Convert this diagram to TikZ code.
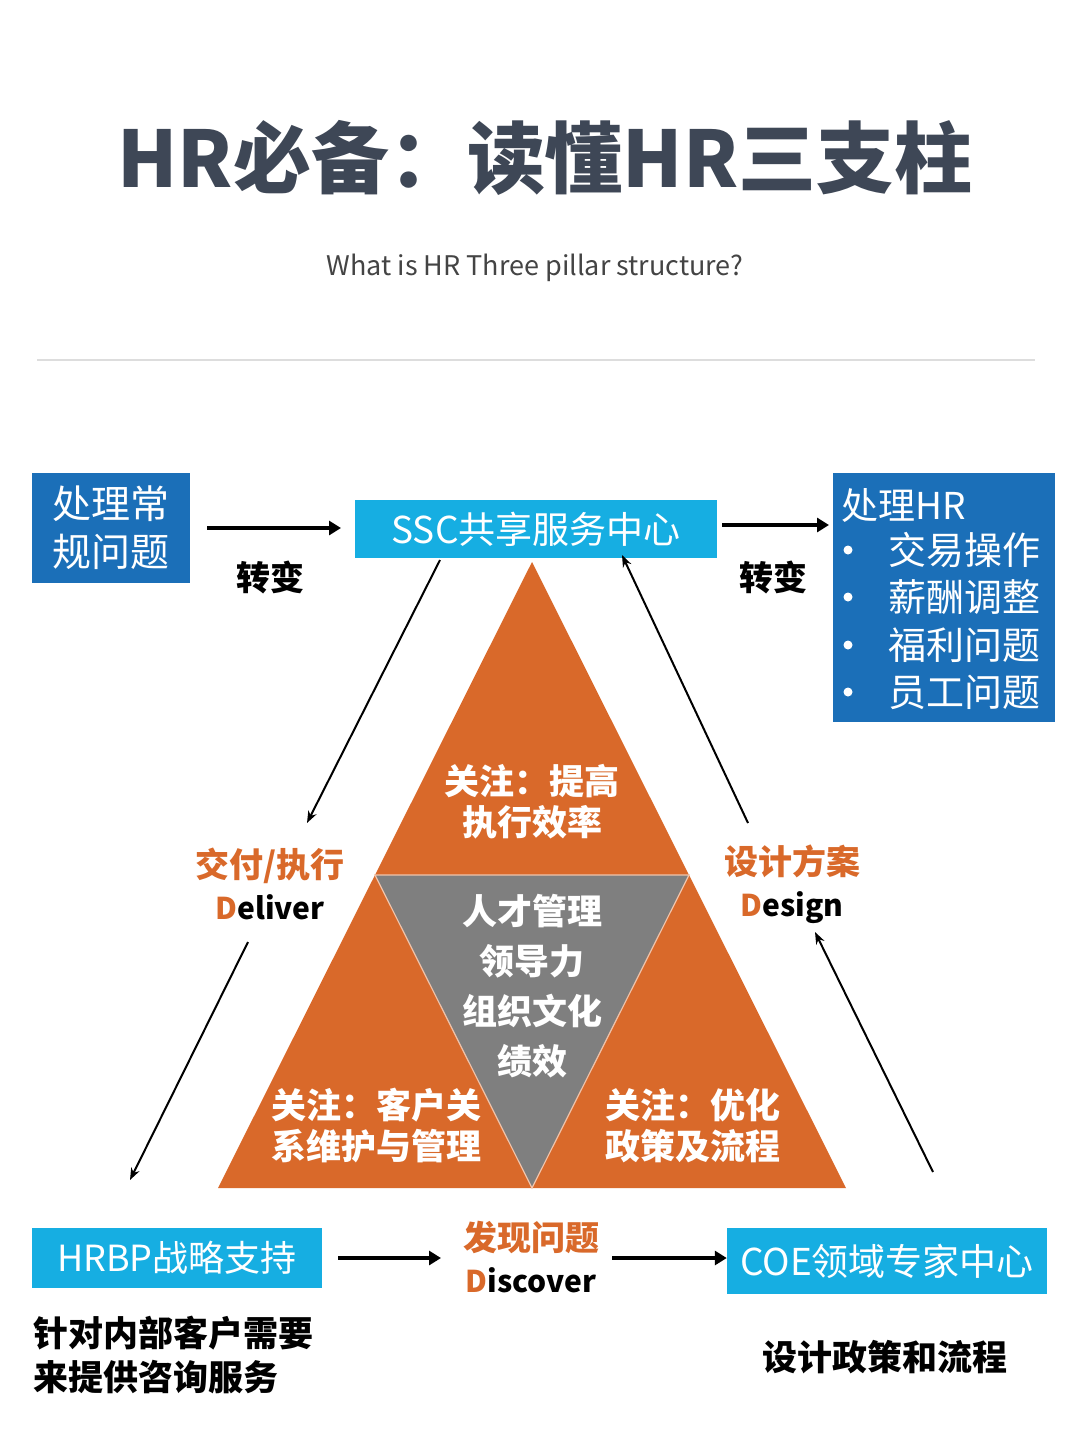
\documentclass[tikz,border=0pt]{standalone}
\usepackage{fontspec}
\setmainfont{Noto Sans CJK SC}
\usetikzlibrary{arrows.meta}
\definecolor{titlec}{HTML}{3E4756}
\definecolor{subc}{HTML}{444444}
\definecolor{darkblue}{HTML}{1B6FB8}
\definecolor{lightblue}{HTML}{16AEE2}
\definecolor{orangeT}{HTML}{D9692A}
\definecolor{grayT}{HTML}{7F7F7F}
\definecolor{rulec}{HTML}{DDDDDD}
\tikzset{
  darkbox/.style={fill=darkblue, text=white, inner sep=0pt},
  lightbox/.style={fill=lightblue, text=white, inner sep=0pt},
  thickarrow/.style={line width=3.5pt, -{Triangle[length=12pt,width=14pt]}},
  thinarrow/.style={line width=2pt, -{Stealth[length=12pt,width=9pt]}},
  blacklabel/.style={font=\fontsize{34}{38}\selectfont\bfseries, text=black},
  orangelabel/.style={font=\fontsize{34}{42}\selectfont\bfseries, text=orangeT, align=center},
  tritext/.style={font=\fontsize{35}{41}\selectfont\bfseries, text=white, align=center},
}
\newcommand{\latinsize}{\fontsize{30}{42}\selectfont}
\begin{document}
\begin{tikzpicture}[x=1pt,y=-1pt]
\useasboundingbox (0,0) rectangle (1080,1436);
\fill[white] (0,0) rectangle (1080,1436);

% title
\node[text=titlec, font=\fontsize{78}{90}\selectfont\bfseries] (title) at (545,158) {HR必备：读懂HR三支柱};
\node[text=subc, font=\fontsize{27}{30}\selectfont] (subtitle) at (535,268) {What is HR Three pillar structure?};
\draw[rulec, line width=1.5pt] (37,360) -- (1035,360);

% top boxes
\node[darkbox, minimum width=158pt, minimum height=110pt, align=center,
      font=\fontsize{39}{48}\selectfont] (routine) at (111,528) {处理常\\规问题};
\node[lightbox, minimum width=362pt, minimum height=58pt,
      font=\fontsize{37}{40}\selectfont] (ssc) at (536,529) {SSC共享服务中心};
\node[darkbox, minimum width=222pt, minimum height=249pt] (hrbox) at (944,597) {};
\node[text=white, anchor=west, font=\fontsize{37}{40}\selectfont] (hr0) at (838,505) {处理HR};
\foreach \y/\t/\n in {550/交易操作/hra, 597/薪酬调整/hrb, 645/福利问题/hrc, 692/员工问题/hrd}{
  \fill[white] (848,\y) circle (4.5pt);
  \node[text=white, anchor=west, font=\fontsize{38}{40}\selectfont] (\n) at (885,\y) {\t};
}

% top horizontal arrows
\coordinate (a1s) at (207,528);
\coordinate (a1e) at (341,528);
\draw[thickarrow] (a1s) -- (a1e);
\node[blacklabel] (zb1) at (270,577) {转变};
\coordinate (a2s) at (722,525);
\coordinate (a2e) at (829,525);
\draw[thickarrow] (a2s) -- (a2e);
\node[blacklabel] (zb2) at (773,577) {转变};

% pyramid
\coordinate (tA) at (532,562);
\coordinate (tB) at (218,1188);
\coordinate (tC) at (846,1188);
\coordinate (mAB) at (375,875);
\coordinate (mAC) at (689,875);
\coordinate (mBC) at (532,1188);
\fill[orangeT] (tA) -- (tB) -- (tC) -- cycle;
\draw[fill=grayT, draw=orangeT!40!white, line width=1.2pt] (mAB) -- (mAC) -- (mBC) -- cycle;

\node[tritext] (ttop) at (532,802) {关注：提高\\执行效率};
\node[tritext] (tleft) at (376,1126) {关注：客户关\\系维护与管理};
\node[tritext] (tright) at (693,1126) {关注：优化\\政策及流程};
\node[tritext, font=\fontsize{35}{50}\selectfont\bfseries] (tmid) at (532,986) {人才管理\\领导力\\组织文化\\绩效};

% side labels
\node[orangelabel] (deliver) at (270,884) {交付/执行\\{\latinsize\color{orangeT}D\color{black}eliver}};
\node[orangelabel] (design) at (792,884) {设计方案\\{\latinsize\color{orangeT}D\color{black}esign}};

% diagonal arrows
\coordinate (d1s) at (440,560);
\coordinate (d1e) at (307,823);
\draw[thinarrow] (d1s) -- (d1e);
\coordinate (d2s) at (248,942);
\coordinate (d2e) at (130,1180);
\draw[thinarrow] (d2s) -- (d2e);
\coordinate (d3s) at (748,823);
\coordinate (d3e) at (622,555);
\draw[thinarrow] (d3s) -- (d3e);
\coordinate (d4s) at (933,1172);
\coordinate (d4e) at (815,932);
\draw[thinarrow] (d4s) -- (d4e);

% bottom boxes
\node[lightbox, minimum width=290pt, minimum height=60pt,
      font=\fontsize{36}{40}\selectfont] (hrbp) at (177,1258) {HRBP战略支持};
\node[lightbox, minimum width=320pt, minimum height=66pt,
      font=\fontsize{37}{40}\selectfont] (coe) at (887,1261) {COE领域专家中心};
\node[orangelabel] (discover) at (531,1257) {发现问题\\{\latinsize\color{orangeT}D\color{black}iscover}};
\coordinate (b1s) at (338,1258);
\coordinate (b1e) at (441,1258);
\draw[thickarrow] (b1s) -- (b1e);
\coordinate (b2s) at (612,1258);
\draw[thickarrow] (b2s) -- (b2s -| coe.west);

\node[blacklabel, anchor=west, align=left, font=\fontsize{35}{44}\selectfont\bfseries] (hrbpdesc) at (30,1355) {针对内部客户需要\\来提供咨询服务};
\node[blacklabel, font=\fontsize{35}{40}\selectfont\bfseries] (coedesc) at (885,1357) {设计政策和流程};
\end{tikzpicture}
\end{document}
